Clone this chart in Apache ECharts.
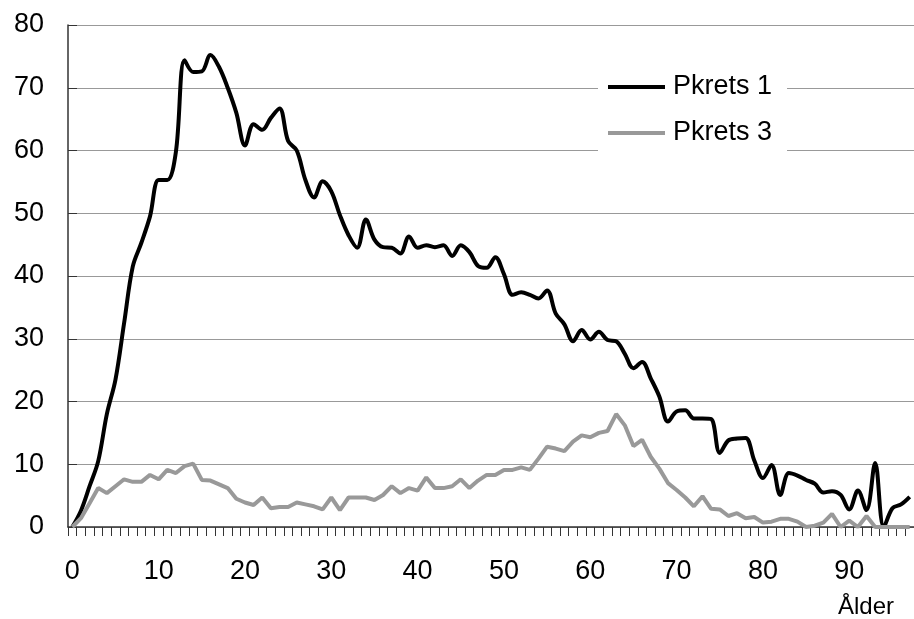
<!DOCTYPE html>
<html>
<head>
<meta charset="utf-8">
<script src="https://cdn.jsdelivr.net/npm/echarts@6/dist/echarts.min.js"></script>
<style>
html,body{margin:0;padding:0;background:#fff;overflow:hidden;}
#chart{width:914px;height:619px;}
</style>
</head>
<body>
<div id="chart"></div>
<script>
const ages = ['0','1','2','3','4','5','6','7','8','9','10','11','12','13','14','15','16','17','18','19',
'20','21','22','23','24','25','26','27','28','29','30','31','32','33','34','35','36','37','38','39',
'40','41','42','43','44','45','46','47','48','49','50','51','52','53','54','55','56','57','58','59',
'60','61','62','63','64','65','66','67','68','69','70','71','72','73','74','75','76','77','78','79',
'80','81','82','83','84','85','86','87','88','89','90','91','92','93','94','95','96','97'];

const pkrets1 = [0, 2.6, 6.5, 10.5, 18, 23.5, 32.5, 41.5, 45.3, 49.5,
 55.3, 55.3, 59.8, 74.4, 72.5, 72.6, 75.2, 73.3, 70, 66,
 60.8, 64.2, 63.3, 65.2, 66.7, 61.5, 60, 55.3, 52.5, 55.1,
 53.5, 49.7, 46.5, 44.5, 49, 45.8, 44.6, 44.5, 43.6, 46.3,
 44.5, 44.9, 44.6, 44.9, 43.2, 44.9, 43.8, 41.6, 41.3, 43,
 40.3, 37, 37.4, 37, 36.4, 37.7, 34, 32.3, 29.6, 31.4,
 29.9, 31.1, 29.8, 29.6, 27.6, 25.3, 26.3, 23.7, 20.8, 16.8,
 18.4, 18.6, 17.3, 17.3, 17.2, 11.8, 13.8, 14.1, 14.2, 10.6,
 7.8, 9.9, 5.1, 8.6, 8.2, 7.5, 6.9, 5.5, 5.7, 5.1,
 2.8, 5.8, 2.7, 10.2, 0, 3, 3.6, 4.8];

const pkrets3 = [0, 1.4, 3.8, 6.2, 5.4, 6.5, 7.6, 7.2, 7.2, 8.3,
 7.6, 9.1, 8.6, 9.7, 10.1, 7.5, 7.4, 6.8, 6.2, 4.5,
 3.9, 3.5, 4.7, 3.0, 3.2, 3.2, 3.9, 3.6, 3.3, 2.8,
 4.7, 2.7, 4.7, 4.7, 4.7, 4.3, 5.1, 6.5, 5.4, 6.2,
 5.8, 7.9, 6.2, 6.2, 6.5, 7.6, 6.2, 7.4, 8.3, 8.3,
 9.1, 9.1, 9.5, 9.1, 10.9, 12.8, 12.5, 12.1, 13.6, 14.6,
 14.3, 15.0, 15.3, 18.0, 16.2, 12.9, 13.9, 11.2, 9.3, 7.0,
 5.9, 4.7, 3.3, 4.9, 2.9, 2.8, 1.75, 2.2, 1.4, 1.6,
 0.7, 0.85, 1.3, 1.3, 0.85, 0, 0.2, 0.7, 2.1, 0,
 1.0, 0, 1.75, 0, 0, 0, 0, 0];

const seriesNames = ['Pkrets 1', 'Pkrets 3'];
const xAxisTitle = 'Ålder';

const FONT = '"Liberation Sans", Arial, sans-serif';
const chart = echarts.init(document.getElementById('chart'), null, {renderer: 'canvas'});
chart.setOption({
  animation: false,
  backgroundColor: '#fff',
  textStyle: {fontFamily: FONT, color: '#000'},
  grid: {left: 68, right: -6, top: 25, bottom: 92, containLabel: false},
  legend: {
    orient: 'vertical',
    left: 598, top: 64,
    backgroundColor: '#fff',
    padding: [8, 15, 10, 10],
    itemGap: 16,
    itemWidth: 57, itemHeight: 4,
    icon: 'rect',
    textStyle: {fontFamily: FONT, fontSize: 27, color: '#000', lineHeight: 30, padding: [0,0,0,3]},
    data: seriesNames
  },
  xAxis: {
    type: 'category',
    data: ages,
    boundaryGap: true,
    axisLine: {show: true, lineStyle: {color: '#333', width: 1.5}},
    axisTick: {show: true, interval: 0, length: 9, lineStyle: {color: '#333', width: 1}},
    axisLabel: {
      interval: function (i) { return i % 10 === 0; },
      fontFamily: FONT, fontSize: 27, color: '#000', margin: 31
    },
    splitLine: {show: false}
  },
  yAxis: {
    type: 'value',
    min: 0, max: 80, interval: 10,
    axisLine: {show: true, lineStyle: {color: '#333', width: 1.5}},
    axisTick: {show: true, inside: true, length: 9, lineStyle: {color: '#333'}},
    axisLabel: {fontFamily: FONT, fontSize: 27, color: '#000', margin: 24},
    splitLine: {show: true, lineStyle: {color: '#999', width: 1}}
  },
  graphic: [{
    type: 'text', left: 838, top: 595,
    style: {text: xAxisTitle, font: '24px ' + FONT, fill: '#000'}
  }],
  series: [
    {
      name: seriesNames[0], type: 'line', data: pkrets1,
      smooth: 0.35, symbol: 'none', clip: false,
      lineStyle: {color: '#000', width: 4},
      itemStyle: {color: '#000'}
    },
    {
      name: seriesNames[1], type: 'line', data: pkrets3,
      smooth: false, symbol: 'none', clip: false,
      lineStyle: {color: '#999', width: 4},
      itemStyle: {color: '#999'}
    }
  ]
});
</script>
</body>
</html>
